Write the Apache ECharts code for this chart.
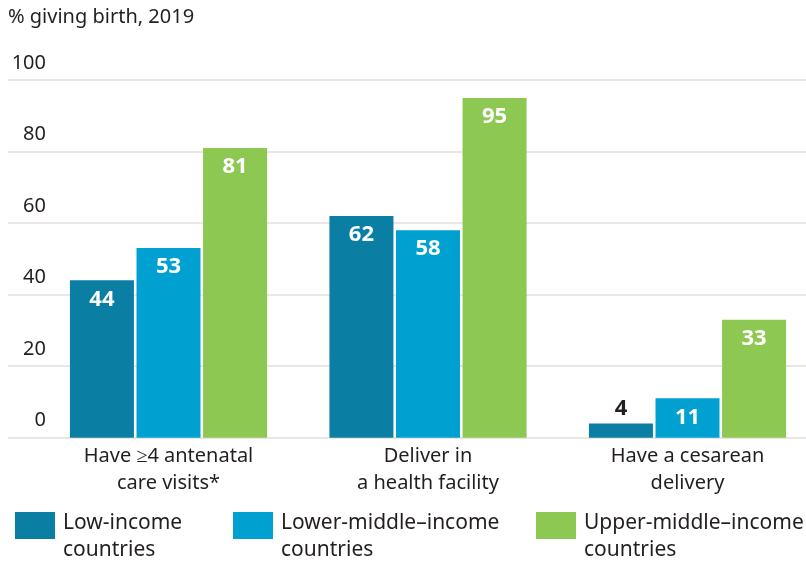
<!DOCTYPE html>
<html>
<head>
<meta charset="utf-8">
<style>
  html, body { margin: 0; padding: 0; background: #ffffff; }
  #chart { width: 806px; height: 561px; }
</style>
<script src="https://cdn.jsdelivr.net/npm/echarts@6/dist/echarts.min.js"></script>
</head>
<body>
<div id="chart"></div>
<script>
// Share of women giving birth, 2019, by country income group
const categories = ['Have \u22654 antenatal\ncare visits*', 'Deliver in\na health facility', 'Have a cesarean\ndelivery'];
const seriesNames = ['Low-income\ncountries', 'Lower-middle\u2013income\ncountries', 'Upper-middle\u2013income\ncountries'];
const lowIncome = [44, 62, 4];
const lowerMiddleIncome = [53, 58, 11];
const upperMiddleIncome = [81, 95, 33];
const yTicks = { min: 0, max: 100, interval: 20 };

const colors = ['#0b7ea4', '#00a1d1', '#8dc853'];
const ink = '#231f20';
const FONT = 'Noto Sans';

const plotTop = 80;
const plotBottom = 561 - 437.7;

// short bars get their value written above the bar instead of inside
function barData(values) {
  return values.map(v => v < 8
    ? { value: v, label: { position: 'top', color: ink, distance: 4 } }
    : v);
}

function barSeries(name, values, color) {
  return {
    name: name,
    type: 'bar',
    xAxisIndex: 1,
    yAxisIndex: 1,
    barWidth: 64,
    barGap: '4%',
    itemStyle: { color: color },
    label: {
      show: true,
      position: 'insideTop',
      distance: 8,
      color: '#ffffff',
      fontFamily: FONT,
      fontWeight: 'bold',
      fontSize: 22
    },
    data: barData(values)
  };
}

// swatch fills the top of a taller icon box so it lines up with the first text line
const swatchIcon = 'path://M0,0H40V27H0Z M0,48.99H40V49H0Z';

function legendText(name) {
  return name.split('\n').map(l => '{t|' + l + '}').join('\n');
}

function legendAt(left, idx) {
  return {
    left: left,
    top: 512,
    padding: 0,
    itemWidth: 40,
    itemHeight: 49,
    itemGap: 0,
    icon: swatchIcon,
    selectedMode: false,
    data: [seriesNames[idx]],
    formatter: legendText,
    textStyle: {
      color: ink,
      rich: {
        t: { fontFamily: FONT, fontSize: 21, lineHeight: 27, color: ink, padding: [0, 0, 0, 3] }
      }
    }
  };
}

const chart = echarts.init(document.getElementById('chart'), null, { renderer: 'canvas' });

chart.setOption({
  animation: false,
  backgroundColor: '#ffffff',
  title: {
    text: '% giving birth, 2019',
    left: 8,
    top: 7,
    padding: 0,
    textStyle: { fontFamily: FONT, fontSize: 20, fontWeight: 'normal', color: ink }
  },
  legend: [legendAt(15, 0), legendAt(233, 1), legendAt(536, 2)],
  grid: [
    // full-width grid carrying the horizontal rules and value labels
    { left: 8, right: 0, top: plotTop, bottom: plotBottom, outerBoundsMode: 'none' },
    // grid for the bar groups
    { left: 38.75, width: 778.5, top: plotTop, bottom: plotBottom, outerBoundsMode: 'none' }
  ],
  xAxis: [
    { gridIndex: 0, type: 'value', min: 0, max: 1, show: false },
    {
      gridIndex: 1,
      type: 'category',
      data: categories,
      axisLine: { show: false },
      axisTick: { show: false },
      axisLabel: {
        margin: 5,
        fontFamily: FONT,
        fontSize: 20,
        lineHeight: 27,
        color: ink
      }
    }
  ],
  yAxis: [
    {
      gridIndex: 0,
      type: 'value',
      min: yTicks.min,
      max: yTicks.max,
      interval: yTicks.interval,
      axisLine: { show: false },
      axisTick: { show: false },
      splitLine: { show: true, lineStyle: { color: '#e4ded8', width: 1.5 } },
      axisLabel: {
        inside: true,
        margin: 38,
        align: 'right',
        verticalAlign: 'bottom',
        padding: [0, 0, 7, 0],
        fontFamily: FONT,
        fontSize: 20,
        color: ink
      }
    },
    {
      gridIndex: 1,
      type: 'value',
      min: yTicks.min,
      max: yTicks.max,
      interval: yTicks.interval,
      show: false,
      splitLine: { show: false }
    }
  ],
  series: [
    barSeries(seriesNames[0], lowIncome, colors[0]),
    barSeries(seriesNames[1], lowerMiddleIncome, colors[1]),
    barSeries(seriesNames[2], upperMiddleIncome, colors[2])
  ]
});
</script>
</body>
</html>
